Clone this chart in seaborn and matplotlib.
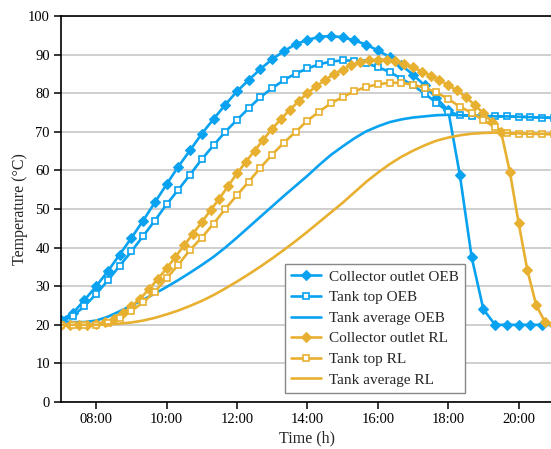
import numpy as np
import pandas as pd
import matplotlib
matplotlib.use("Agg")
import matplotlib.pyplot as plt
import seaborn as sns

# ---- data ----
# 20-minute grid 07:00 .. 21:00 (43 points)
collector_oeb = [21.3, 23.0, 26.4, 30.0, 33.9, 38.2, 42.5, 47.0, 51.7, 56.4, 61.0, 65.2, 69.5, 73.3,
                 77.0, 80.5, 83.4, 86.3, 88.8, 90.9, 92.7, 93.8, 94.6, 94.8, 94.5, 93.7, 92.6, 91.1,
                 89.4, 87.3, 84.8, 82.0, 78.7, 75.6, 58.7, 37.5, 24.0, 20.0, 20.0, 20.0, 20.0, 20.0, 20.0]
tanktop_oeb = [20.8, 22.3, 24.8, 28.0, 31.5, 35.3, 39.0, 43.0, 47.0, 51.2, 55.0, 58.9, 62.9, 66.5,
               70.0, 73.1, 76.1, 79.0, 81.3, 83.4, 85.1, 86.4, 87.5, 88.2, 88.5, 88.4, 87.7, 86.8,
               85.5, 83.8, 82.0, 79.9, 77.5, 75.2, 74.3, 74.2, 74.1, 74.0, 74.0, 73.9, 73.8, 73.7, 73.6]
tankavg_oeb = [21.0, 20.7, 20.7, 21.1, 22.1, 23.5, 25.0, 26.5, 28.1, 29.8, 31.6, 33.5, 35.5, 37.6,
               40.0, 42.6, 45.3, 48.0, 50.7, 53.4, 56.0, 58.6, 61.4, 64.0, 66.2, 68.3, 70.1, 71.4,
               72.5, 73.2, 73.7, 74.0, 74.3, 74.4, 74.3, 74.2, 74.1, 74.0, 74.0, 73.9, 73.8, 73.7, 73.6]
tanktop_rl = [20.0, 20.0, 20.0, 20.0, 20.4, 21.8, 23.6, 25.8, 28.6, 32.0, 35.6, 39.4, 42.6, 46.2,
              50.0, 53.6, 57.1, 60.7, 64.1, 67.2, 70.0, 72.9, 75.2, 77.4, 79.0, 80.5, 81.6, 82.3,
              82.7, 82.7, 82.2, 81.4, 80.2, 78.5, 76.5, 74.9, 73.0, 71.2, 69.6, 69.5, 69.5, 69.4, 69.4]
tankavg_rl = [20.0, 20.0, 20.0, 20.0, 20.1, 20.3, 20.6, 21.1, 21.8, 22.7, 23.7, 24.9, 26.2, 27.7,
              29.4, 31.2, 33.1, 35.1, 37.2, 39.4, 41.7, 44.1, 46.6, 49.1, 51.6, 54.3, 57.0, 59.4,
              61.6, 63.5, 65.1, 66.5, 67.7, 68.5, 69.1, 69.5, 69.7, 69.8, 69.7, 69.6, 69.5, 69.5, 69.4]
# 15-minute grid 07:00 .. 21:00 (57 points)
collector_rl = [20.0, 20.0, 20.0, 20.0, 20.1, 20.6, 21.6, 23.0, 24.8, 26.8, 29.2, 31.9, 34.6, 37.6,
                40.6, 43.6, 46.6, 49.7, 52.7, 56.0, 59.2, 62.2, 65.1, 68.0, 70.8, 73.3, 75.7, 77.9,
                80.0, 81.8, 83.4, 84.9, 86.1, 87.2, 88.0, 88.5, 88.7, 88.7, 88.3, 87.6, 86.7, 85.6,
                84.5, 83.4, 82.1, 80.7, 79.0, 77.0, 74.8, 72.5, 70.0, 59.7, 46.4, 34.1, 25.1, 20.7, 20.0]

time_20 = 7 + np.arange(len(collector_oeb)) / 3.0
time_15 = 7 + np.arange(len(collector_rl)) / 4.0

xtick_vals = [8, 10, 12, 14, 16, 18, 20]
xtick_labels = ["08:00", "10:00", "12:00", "14:00", "16:00", "18:00", "20:00"]
ytick_vals = list(range(0, 101, 10))

BLUE = "#08a2f0"
ORANGE = "#e8b031"

sns.set_theme(style="white")
plt.rcParams["font.family"] = ["Liberation Serif", "DejaVu Serif"]
plt.rcParams["mathtext.fontset"] = "dejavuserif"

fig = plt.figure(figsize=(5.51, 4.49), dpi=100)
ax = fig.add_axes([61 / 551, 47 / 449, 492.8 / 551, 386 / 449])

series = [
    ("Collector outlet OEB", time_20, collector_oeb, BLUE, "D", True),
    ("Tank top OEB", time_20, tanktop_oeb, BLUE, "s", False),
    ("Tank average OEB", time_20, tankavg_oeb, BLUE, None, None),
    ("Collector outlet RL", time_15, collector_rl, ORANGE, "D", True),
    ("Tank top RL", time_20, tanktop_rl, ORANGE, "s", False),
    ("Tank average RL", time_20, tankavg_rl, ORANGE, None, None),
]

for label, t, v, c, mk, filled in series:
    df = pd.DataFrame({"t": t, "v": v})
    kw = dict(color=c, linewidth=1.9, label=label)
    if mk == "D":
        kw.update(marker="D", markersize=5.4, markerfacecolor=c, markeredgecolor=c, markeredgewidth=0.8)
    elif mk == "s":
        kw.update(marker="s", markersize=4.6, markerfacecolor="white", markeredgecolor=c, markeredgewidth=1.2)
    sns.lineplot(data=df, x="t", y="v", ax=ax, **kw)

ax.set_xlim(7, 21)
ax.set_ylim(0, 100)
ax.set_xticks(xtick_vals)
ax.set_xticklabels(xtick_labels)
ax.set_yticks(ytick_vals)
ax.yaxis.grid(True, color="#cccccc", linewidth=1.3)
ax.xaxis.grid(False)
ax.set_axisbelow(True)
for s in ["left", "bottom", "top", "right"]:
    ax.spines[s].set_color("black")
    ax.spines[s].set_linewidth(1.2)
ax.tick_params(axis="both", direction="out", length=5, width=1.1, colors="black",
               labelsize=10.5, bottom=True, left=True, pad=3)
ax.set_xlabel("Time (h)", fontsize=11.5, labelpad=3)
ax.set_ylabel("Temperature (°C)", fontsize=11.5, labelpad=0)

leg = ax.legend(loc="lower left", bbox_to_anchor=(0.4545, 0.024), borderaxespad=0,
                fontsize=11, frameon=True, fancybox=False, edgecolor="#888888", framealpha=1,
                handlelength=1.95, borderpad=0.4, labelspacing=0.45, handletextpad=0.5)
leg.get_frame().set_linewidth(1.0)

fig.savefig("out.png", dpi=100)
